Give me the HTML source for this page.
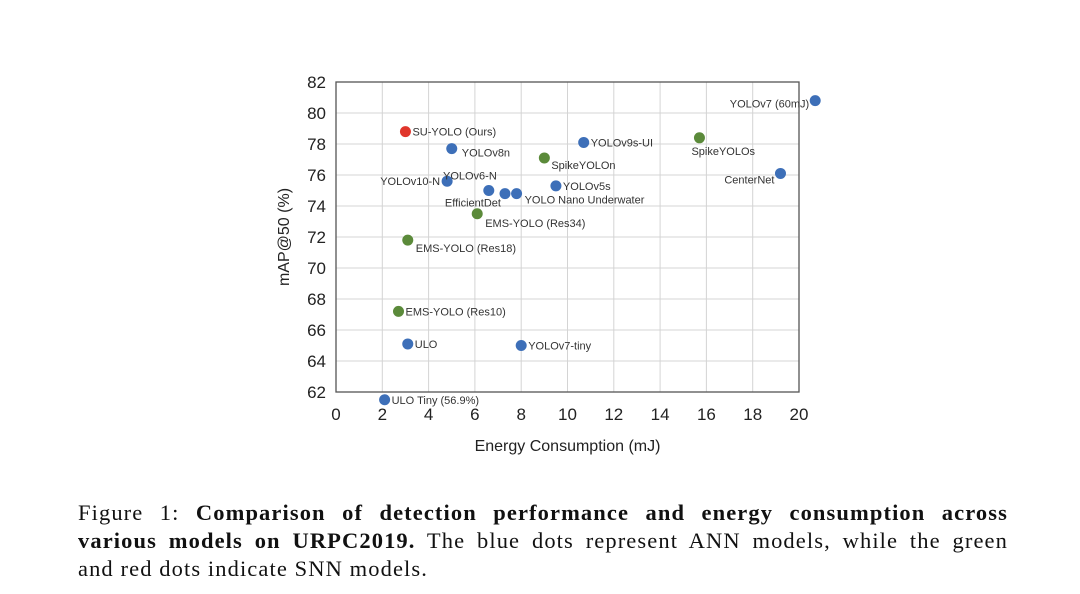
<!DOCTYPE html>
<html><head><meta charset="utf-8"><style>
body{margin:0;background:#fff;width:1080px;height:594px;overflow:hidden;position:relative}
svg{position:absolute;left:0;top:0}
.cap{position:absolute;left:78px;top:499px;width:930px;font-family:"Liberation Serif",serif;font-size:22.5px;line-height:28px;color:#111;letter-spacing:1.1px}
.cap div{white-space:nowrap}
.j{text-align:justify;text-align-last:justify}
</style></head><body>
<svg id="chart" width="1080" height="480"></svg>
<div class="cap"><div class="j">Figure 1: <b>Comparison of detection performance and energy consumption across</b></div><div class="j"><b>various models on URPC2019.</b> The blue dots represent ANN models, while the green</div><div>and red dots indicate SNN models.</div></div>
<script>
const names=["SU-YOLO (Ours)","YOLOv8n","YOLOv9s-UI","SpikeYOLOn","SpikeYOLOs","YOLOv7 (60mJ)","CenterNet","YOLOv10-N","YOLOv6-N","EfficientDet","YOLO Nano Underwater","YOLOv5s","EMS-YOLO (Res34)","EMS-YOLO (Res18)","EMS-YOLO (Res10)","ULO","YOLOv7-tiny","ULO Tiny (56.9%)"];
const energy=[3.0,5.0,10.7,9.0,15.7,20.7,19.2,4.8,6.6,7.3,7.8,9.5,6.1,3.1,2.7,3.1,8.0,2.1];
const mAP=[78.8,77.7,78.1,77.1,78.4,80.8,76.1,75.6,75.0,74.8,74.8,75.3,73.5,71.8,67.2,65.1,65.0,61.5];
const kinds=["snn-ours","ann","ann","snn","snn","ann","ann","ann","ann","ann","ann","ann","snn","snn","snn","ann","ann","ann"];
const xTicks=[0,2,4,6,8,10,12,14,16,18,20];
const yTicks=[62,64,66,68,70,72,74,76,78,80,82];
const lab=[[7,4,"start"],[10,8,"start"],[7,4,"start"],[7,11,"start"],[-8,17,"start"],[-6,7,"end"],[-6,10,"end"],[-7,4,"end"],[8,-11,"end"],[-4,13,"end"],[8,10,"start"],[7,4,"start"],[8,13,"start"],[8,12,"start"],[7,4,"start"],[7,4,"start"],[7,4,"start"],[7,4,"start"]];
const X0=336,X1=799,Y0=392,Y1=82;
const sx=v=>X0+(v-0)/20*(X1-X0), sy=v=>Y0-(v-62)/20*(Y0-Y1);
const ns="http://www.w3.org/2000/svg",svg=document.getElementById('chart');
function mk(t,a,txt){const e=document.createElementNS(ns,t);for(const k in a)e.setAttribute(k,a[k]);if(txt!=null)e.textContent=txt;svg.appendChild(e);return e;}
const F='"Liberation Sans",sans-serif';
xTicks.forEach(v=>{const g=mk('line',{x1:sx(v),x2:sx(v),y1:Y1,y2:Y0,stroke:'#d4d4d4','stroke-width':1});

const t=mk('text',{x:sx(v),y:Y0+28,'text-anchor':'middle','font-family':F,'font-size':17,fill:'#222'},v);
});
yTicks.forEach(v=>{const g=mk('line',{x1:X0,x2:X1,y1:sy(v),y2:sy(v),stroke:'#d4d4d4','stroke-width':1});

const t=mk('text',{x:X0-10,y:sy(v)+6,'text-anchor':'end','font-family':F,'font-size':17,fill:'#222'},v);
});
const fr=mk('rect',{x:X0,y:Y1,width:X1-X0,height:Y0-Y1,fill:'none',stroke:'#555','stroke-width':1.3});

const col={"ann":"#3d6fb8","snn":"#5b8a3a","snn-ours":"#e0352b"};
energy.forEach((e,i)=>{const cx=sx(e),cy=sy(mAP[i]);
const c=mk('circle',{cx:cx,cy:cy,r:5.5,fill:col[kinds[i]]});


const l=lab[i];const t=mk('text',{x:cx+l[0],y:cy+l[1],'text-anchor':l[2],'font-family':F,'font-size':11,fill:'#333'},names[i]);
});
const xt=mk('text',{x:(X0+X1)/2,y:451,'text-anchor':'middle','font-family':F,'font-size':16,fill:'#222'},'Energy Consumption (mJ)');

const yt=mk('text',{x:0,y:0,'text-anchor':'middle','font-family':F,'font-size':16,fill:'#222',transform:'translate(289,237) rotate(-90)'},'mAP@50 (%)');

</script>
</body></html>
